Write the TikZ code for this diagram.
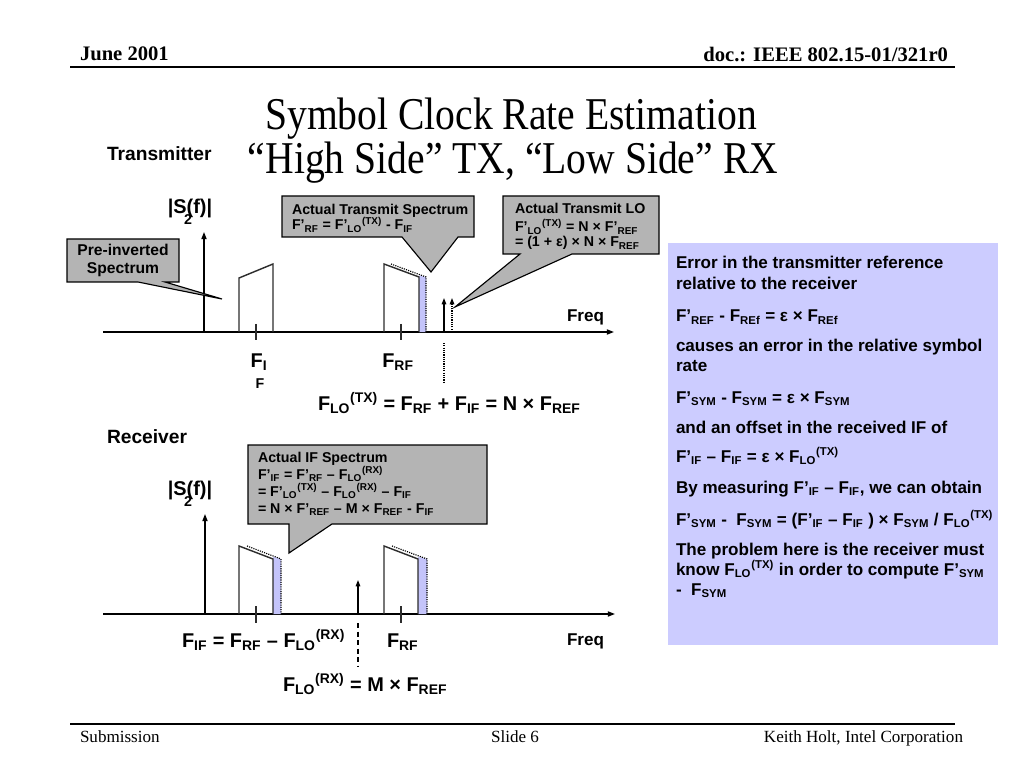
\documentclass[tikz,border=0pt]{standalone}
\usepackage{fontspec}
\setmainfont{Liberation Sans}
\newfontfamily\tms{Liberation Serif}
\newfontfamily\tmsttl[FakeStretch=0.87]{Liberation Serif}
\usetikzlibrary{arrows.meta}
\newcommand{\sbs}[1]{\textsubscript{#1}}
\newcommand{\sps}[1]{\textsuperscript{#1}}
\definecolor{callgray}{RGB}{180,180,180}
\definecolor{panelblue}{RGB}{204,204,255}
\definecolor{stripblue}{RGB}{196,196,250}
\definecolor{specline}{RGB}{45,45,45}
\begin{document}
\begin{tikzpicture}[x=0.703125pt,y=-0.703125pt,
  txt/.style={inner sep=0pt,outer sep=0pt},
  hdr/.style={txt,font=\tms\bfseries\fontsize{14.5}{16}\selectfont},
  ftr/.style={txt,font=\tms\fontsize{12}{14}\selectfont},
  ttl/.style={txt,font=\tmsttl\fontsize{32}{36}\selectfont},
  sect/.style={txt,font=\bfseries\fontsize{13.5}{16}\selectfont},
  lbl/.style={txt,font=\bfseries\fontsize{14}{16}\selectfont},
  small/.style={txt,font=\bfseries\fontsize{10}{12}\selectfont},
  ptxt/.style={txt,font=\bfseries\fontsize{12}{14}\selectfont},
  freq/.style={txt,font=\bfseries\fontsize{12}{14}\selectfont},
  axis/.style={line width=0.9pt,-{Triangle[length=5pt,width=3.6pt]}},
  loarrow/.style={line width=0.9pt,-{Triangle[length=4.5pt,width=3.2pt]}},
  spec/.style={line width=1pt,draw=specline},
  ticks/.style={line width=1pt,draw=specline},
  dots/.style={line width=0.8pt,dash pattern=on 0.8pt off 0.8pt},
  strip/.style={fill=stripblue},
  callout/.style={fill=callgray,draw=black,line width=0.8pt,line join=miter},
  rule/.style={line width=1.4pt}]
\useasboundingbox (0,0) rectangle (1024,768);
\fill[white] (0,0) rectangle (1024,768);

% header and footer
\node[hdr,anchor=base west] (date) at (80,61) {June 2001};
\node[hdr,anchor=base east] (doc) at (948,62) {doc.: IEEE 802.15-01/321r0};
\coordinate (hl) at (70,67); \coordinate (hr) at (955,67);
\draw[rule] (hl) -- (hr);
\coordinate (fl) at (70,724); \coordinate (fr) at (955,724);
\draw[rule] (fl) -- (fr);
\node[ftr,anchor=base west] (sub) at (80,742) {Submission};
\node[ftr,anchor=base] (slide) at (515,742) {Slide 6};
\node[ftr,anchor=base east] (auth) at (963,742) {Keith Holt, Intel Corporation};

% title
\node[ttl,anchor=base] (t1) at (511,130) {Symbol Clock Rate Estimation};
\node[ttl,anchor=base] (t2) at (513,174) {“High Side” TX, “Low Side” RX};

% ---------------- Transmitter ----------------
\node[sect,anchor=base west] (tx) at (107,161) {Transmitter};
\coordinate (ax1s) at (103,332); \coordinate (ax1e) at (614,332);
\draw[axis] (ax1s) -- (ax1e);
\coordinate (vy1s) at (204,332); \coordinate (vy1e) at (204,232);
\draw[axis] (vy1s) -- (vy1e);
\node[lbl,anchor=base] (s1) at (190,214) {|S(f)|};
\node[txt,font=\bfseries\fontsize{10}{12}\selectfont,anchor=base] (s1b) at (188,225) {2};

% pre-inverted IF spectrum
\draw[spec] (239,332) -- (239,278) -- (273,264) -- (273,332);
\draw[ticks] (256,324) -- (256,340);
% RF spectrum with shifted (actual) version
\fill[strip] (419,275.4) -- (426,277) -- (426,332) -- (419,332) -- cycle;
\draw[dots] (391,264) -- (426,277) -- (426,332);
\draw[spec] (384,332) -- (384,264) -- (419,277) -- (419,332);
\draw[ticks] (401,324) -- (401,340);
% LO lines
\coordinate (lo1) at (444,332); \coordinate (lo1t) at (444,298);
\draw[loarrow] (lo1) -- (lo1t);
\coordinate (lo2) at (452,332); \coordinate (lo2t) at (452,298);
\draw[loarrow,dots] (lo2) -- (lo2t);
\coordinate (lo1d) at (444,343); \coordinate (lo1e) at (444,383);
\draw[dots] (lo1d) -- (lo1e);

\node[lbl,anchor=base] (fi) at (259,367) {F\sbs{I}};
\node[txt,font=\bfseries\fontsize{10}{12}\selectfont,anchor=base] (fi2) at (260,388) {F};
\node[lbl,anchor=base] (frf1) at (398,367) {F\sbs{RF}};
\node[lbl,anchor=base west] (flotx) at (318,410) {F\sbs{LO}\sps{(TX)} = F\sbs{RF} + F\sbs{IF} = N × F\sbs{REF}};
\node[freq,anchor=base west] (fq1) at (567,321) {Freq};

% callout: pre-inverted
\draw[callout] (67,239) -- (179,239) -- (179,282) -- (165,282) -- (222,299) -- (138,282) -- (67,282) -- cycle;
\node[txt,font=\bfseries\fontsize{11}{13}\selectfont,align=center] (pre) at (123,260.5) {Pre-inverted\\Spectrum};

% callout: actual transmit spectrum
\draw[callout] (282,196) -- (474,196) -- (474,237) -- (458,237) -- (431,272) -- (402,237) -- (282,237) -- cycle;
\node[small,anchor=base west] (cs1) at (292,215) {Actual Transmit Spectrum};
\node[small,anchor=base west] (cs2) at (292,230) {F’\sbs{RF} = F’\sbs{LO}\sps{(TX)} - F\sbs{IF}};

% callout: actual transmit LO
\draw[callout] (503,196) -- (659,196) -- (659,254) -- (572,254) -- (455,307) -- (520,254) -- (503,254) -- cycle;
\node[small,anchor=base west] (cl1) at (515,214) {Actual Transmit LO};
\node[small,anchor=base west] (cl2) at (515,232) {F’\sbs{LO}\sps{(TX)} = N × F’\sbs{REF}};
\node[small,anchor=base west] (cl3) at (515,247) {= (1 + ε) × N × F\sbs{REF}};

% ---------------- Receiver ----------------
\node[sect,anchor=base west] (rx) at (107,443) {Receiver};
\coordinate (ax2s) at (103,614); \coordinate (ax2e) at (615,614);
\draw[axis] (ax2s) -- (ax2e);
\coordinate (vy2s) at (205,614); \coordinate (vy2e) at (205,514);
\draw[axis] (vy2s) -- (vy2e);
\node[lbl,anchor=base] (s2) at (190,495) {|S(f)|};
\node[txt,font=\bfseries\fontsize{10}{12}\selectfont,anchor=base] (s2b) at (188,506) {2};

% IF spectrum
\fill[strip] (273,556.6) -- (281,559) -- (281,614) -- (273,614) -- cycle;
\draw[dots] (247,546) -- (281,559) -- (281,614);
\draw[spec] (239,614) -- (239,546) -- (273,559) -- (273,614);
\draw[ticks] (256,606) -- (256,623);
% RF spectrum
\fill[strip] (418,556.6) -- (427,559) -- (427,614) -- (418,614) -- cycle;
\draw[dots] (392,546) -- (427,559) -- (427,614);
\draw[spec] (384,614) -- (384,546) -- (418,559) -- (418,614);
\draw[ticks] (401,606) -- (401,623);
% LO RX
\coordinate (lo3) at (358,614); \coordinate (lo3t) at (358,580);
\draw[loarrow] (lo3) -- (lo3t);
\coordinate (lo3d) at (358,623); \coordinate (lo3e) at (358,666);
\draw[line width=0.9pt,dash pattern=on 3.5pt off 2.5pt] (lo3d) -- (lo3e);

\node[lbl,anchor=base west] (fif) at (182,647) {F\sbs{IF} = F\sbs{RF} – F\sbs{LO}\sps{(RX)}};
\node[lbl,anchor=base west] (frf2) at (387,647) {F\sbs{RF}};
\node[freq,anchor=base west] (fq2) at (567,645) {Freq};
\node[lbl,anchor=base west] (florx) at (283,691) {F\sbs{LO}\sps{(RX)} = M × F\sbs{REF}};

% callout: actual IF spectrum
\draw[callout] (248,445) -- (487,445) -- (487,524) -- (332,524) -- (289,553) -- (289,524) -- (248,524) -- cycle;
\node[small,anchor=base west] (ci1) at (258,462) {Actual IF Spectrum};
\node[small,anchor=base west] (ci2) at (258,479) {F’\sbs{IF} = F’\sbs{RF} – F\sbs{LO}\sps{(RX)}};
\node[small,anchor=base west] (ci3) at (258,496) {= F’\sbs{LO}\sps{(TX)} – F\sbs{LO}\sps{(RX)} – F\sbs{IF}};
\node[small,anchor=base west] (ci4) at (258,513) {= N × F’\sbs{REF} – M × F\sbs{REF} - F\sbs{IF}};

% ---------------- explanation panel ----------------
\fill[panelblue] (668,243) rectangle (998,645);
\node[ptxt,anchor=base west] (p1) at (676,269) {Error in the transmitter reference};
\node[ptxt,anchor=base west] (p2) at (676,289) {relative to the receiver};
\node[ptxt,anchor=base west] (p3) at (676,322) {F’\sbs{REF} - F\sbs{REf} = ε × F\sbs{REf}};
\node[ptxt,anchor=base west] (p4) at (676,351) {causes an error in the relative symbol};
\node[ptxt,anchor=base west] (p5) at (676,371) {rate};
\node[ptxt,anchor=base west] (p6) at (676,403) {F’\sbs{SYM} - F\sbs{SYM} = ε × F\sbs{SYM}};
\node[ptxt,anchor=base west] (p7) at (676,433) {and an offset in the received IF of};
\node[ptxt,anchor=base west] (p8) at (676,462) {F’\sbs{IF} – F\sbs{IF} = ε × F\sbs{LO}\sps{(TX)}};
\node[ptxt,anchor=base west] (p9) at (676,493) {By measuring F’\sbs{IF} – F\sbs{IF}, we can obtain};
\node[ptxt,anchor=base west] (p10) at (676,525) {F’\sbs{SYM} -\ \ F\sbs{SYM} = (F’\sbs{IF} – F\sbs{IF} ) × F\sbs{SYM} / F\sbs{LO}\sps{(TX)}};
\node[ptxt,anchor=base west] (p11) at (676,555) {The problem here is the receiver must};
\node[ptxt,anchor=base west] (p12) at (676,575) {know F\sbs{LO}\sps{(TX)} in order to compute F’\sbs{SYM}};
\node[ptxt,anchor=base west] (p13) at (676,595) {-\ \ F\sbs{SYM}};
\end{tikzpicture}
\end{document}
